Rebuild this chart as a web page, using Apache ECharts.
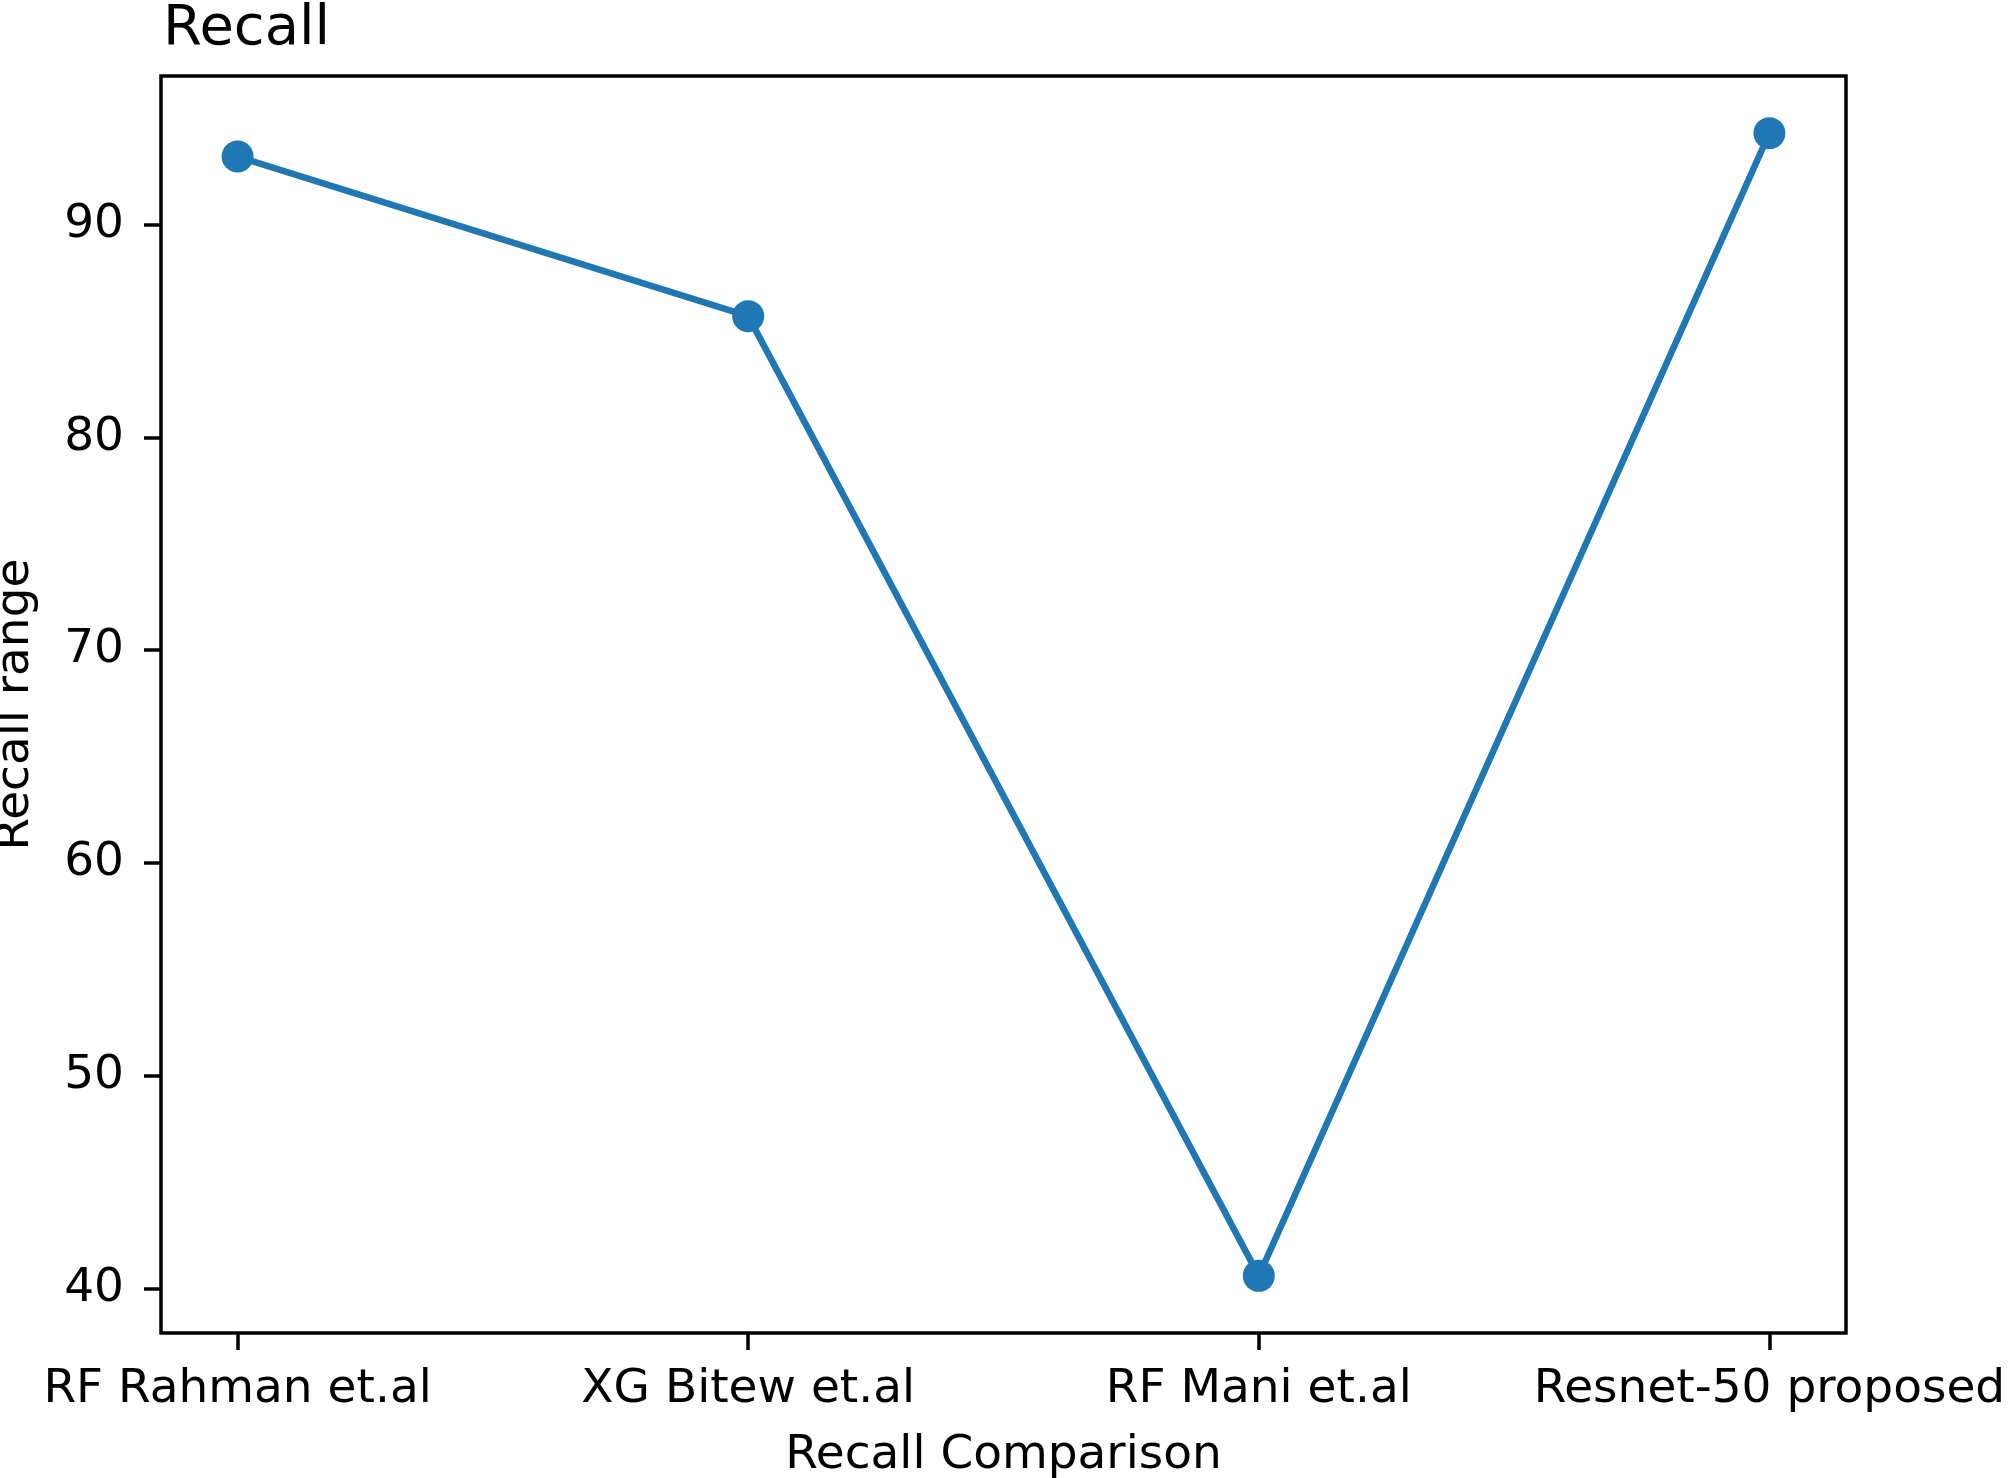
<!DOCTYPE html>
<html>
<head>
<meta charset="utf-8">
<script src="https://cdn.jsdelivr.net/npm/echarts@6/dist/echarts.min.js"></script>
<style>
html,body{margin:0;padding:0;background:#fff;}
#chart{width:2008px;height:1478px;}
</style>
</head>
<body>
<div id="chart"></div>
<script>
const categories = ['RF Rahman et.al', 'XG Bitew et.al', 'RF Mani et.al', 'Resnet-50 proposed'];
const recallValues = [93.2, 85.7, 40.6, 94.3];
const yTicks = [40, 50, 60, 70, 80, 90];
const xTicks = [0, 1, 2, 3];

const FONT = 'DejaVu Sans';
const vMin = Math.min(...recallValues), vMax = Math.max(...recallValues);
const pad = (vMax - vMin) * 0.05;
const xPad = (categories.length - 1) * 0.05;

const chart = echarts.init(document.getElementById('chart'), null, {renderer: 'canvas'});
chart.setOption({
  animation: false,
  backgroundColor: '#ffffff',
  title: {
    text: 'Recall',
    left: 158,
    top: -4,
    textStyle: {fontFamily: FONT, fontSize: 56, fontWeight: 'normal', color: '#000'}
  },
  grid: {
    left: 161, right: 162, top: 76, bottom: 145,
    containLabel: false,
    outerBoundsMode: 'none',
    show: true, borderColor: '#000', borderWidth: 3.5, backgroundColor: 'transparent'
  },
  xAxis: {
    type: 'value',
    min: -xPad,
    max: categories.length - 1 + xPad,
    name: 'Recall Comparison',
    nameLocation: 'middle',
    nameGap: 99,
    nameTextStyle: {fontFamily: FONT, fontSize: 47, color: '#000'},
    axisLine: {show: false, onZero: false},
    splitLine: {show: false},
    axisTick: {show: true, customValues: xTicks, length: 17, lineStyle: {color: '#000', width: 3.5}},
    axisLabel: {
      customValues: xTicks,
      margin: 33,
      hideOverlap: false,
      fontFamily: FONT, fontSize: 47, color: '#000',
      formatter: v => categories[Math.round(v)] ?? ''
    }
  },
  yAxis: {
    type: 'value',
    min: vMin - pad,
    max: vMax + pad,
    name: 'Recall range',
    nameLocation: 'middle',
    nameGap: 122,
    nameTextStyle: {fontFamily: FONT, fontSize: 47, color: '#000'},
    axisLine: {show: false, onZero: false},
    splitLine: {show: false},
    axisTick: {show: true, customValues: yTicks, length: 17, lineStyle: {color: '#000', width: 3.5}},
    axisLabel: {
      customValues: yTicks,
      margin: 37,
      fontFamily: FONT, fontSize: 47, color: '#000'
    }
  },
  series: [{
    type: 'line',
    data: recallValues.map((v, i) => [i, v]),
    symbol: 'circle',
    symbolSize: 32,
    lineStyle: {color: '#1f77b4', width: 6.5},
    itemStyle: {color: '#1f77b4'},
    z: 3
  }]
});
</script>
</body>
</html>
